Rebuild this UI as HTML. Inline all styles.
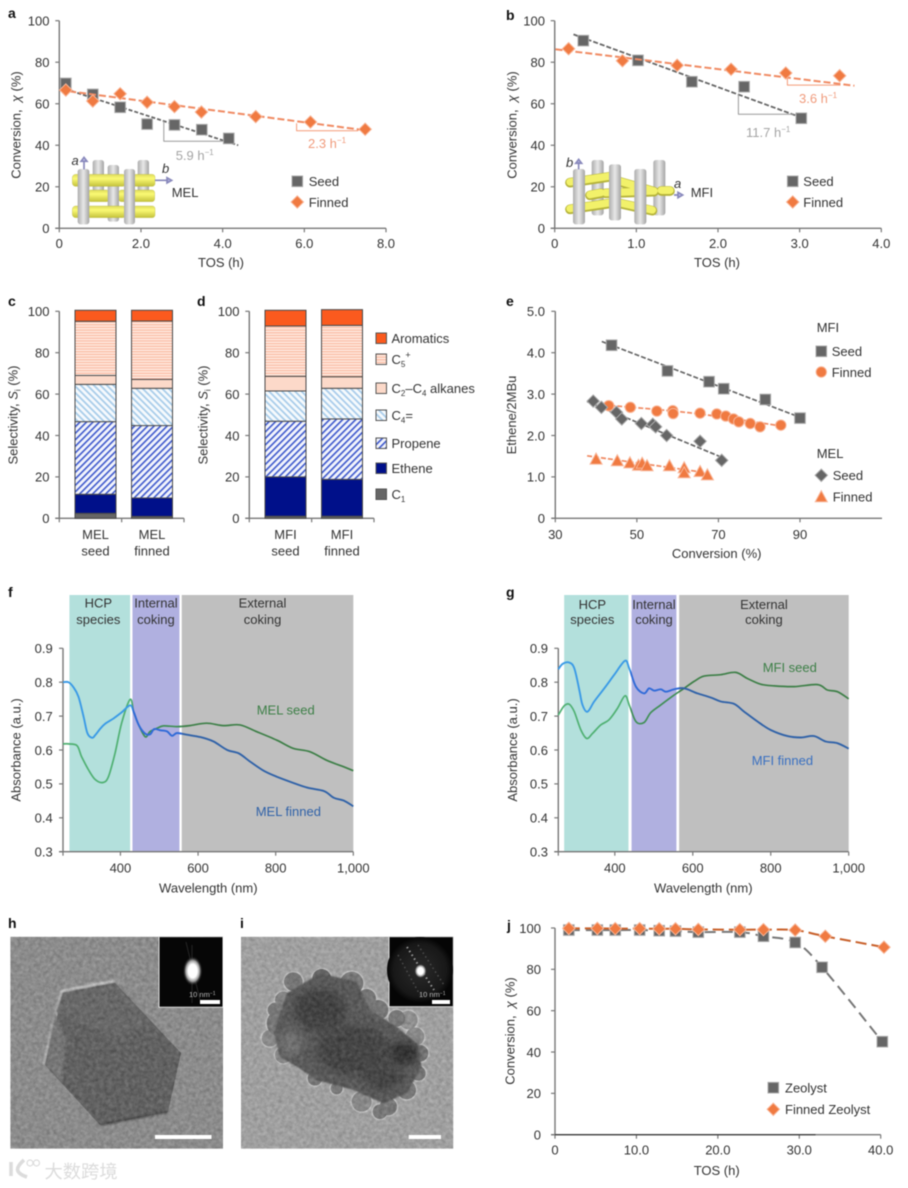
<!DOCTYPE html>
<html lang="en">
<head>
<meta charset="utf-8">
<title>Zeolite catalyst figure</title>
<style>
html,body{margin:0;padding:0;background:#fff;}
#figure{position:absolute;left:0;top:0;width:908px;height:1188px;filter:blur(.45px);font-family:"Liberation Sans","Noto Sans CJK SC",sans-serif;font-size:13px;fill:#333;}
.pl{font-weight:bold;font-size:14px;fill:#111;}
</style>
</head>
<body>
<svg id="figure" xmlns="http://www.w3.org/2000/svg" width="908" height="1188" viewBox="0 0 908 1188">
<defs>
  <pattern id="pC5" patternUnits="userSpaceOnUse" width="6" height="2.7"><rect width="6" height="2.7" fill="#fdd3c2"/><rect width="6" height="1.1" fill="#f9a78a" opacity=".55"/><rect y="1.7" width="6" height="1" fill="#fff2ec"/></pattern>
  <pattern id="pC4" patternUnits="userSpaceOnUse" width="4.6" height="4.6" patternTransform="rotate(-45)"><rect width="4.6" height="4.6" fill="#f6fafd"/><rect width="1.8" height="4.6" fill="#a9cdea"/></pattern>
  <pattern id="pPr" patternUnits="userSpaceOnUse" width="4.6" height="4.6" patternTransform="rotate(45)"><rect width="4.6" height="4.6" fill="#f2f4fc"/><rect width="1.6" height="4.6" fill="#3d58cc"/></pattern>
  <linearGradient id="gBlueF" gradientUnits="userSpaceOnUse" x1="63" x2="353" y1="0" y2="0"><stop offset=".24" stop-color="#3a9ae6"/><stop offset=".24" stop-color="#2f6ad8"/><stop offset=".41" stop-color="#2f6ad8"/><stop offset=".41" stop-color="#3062a8"/></linearGradient>
  <linearGradient id="gGreenF" gradientUnits="userSpaceOnUse" x1="63" x2="353" y1="0" y2="0"><stop offset=".24" stop-color="#4fb072"/><stop offset=".24" stop-color="#3f8f55"/><stop offset=".41" stop-color="#3f8f55"/><stop offset=".41" stop-color="#3d7f47"/></linearGradient>
  <linearGradient id="gBlueG" gradientUnits="userSpaceOnUse" x1="558" x2="849" y1="0" y2="0"><stop offset=".25" stop-color="#3a9ae6"/><stop offset=".25" stop-color="#2f6ad8"/><stop offset=".416" stop-color="#2f6ad8"/><stop offset=".416" stop-color="#3062a8"/></linearGradient>
  <linearGradient id="gGreenG" gradientUnits="userSpaceOnUse" x1="558" x2="849" y1="0" y2="0"><stop offset=".25" stop-color="#4fb072"/><stop offset=".25" stop-color="#3f8f55"/><stop offset=".416" stop-color="#3f8f55"/><stop offset=".416" stop-color="#3d7f47"/></linearGradient>
  <linearGradient id="cylG" x1="0" x2="1" y1="0" y2="0"><stop offset="0" stop-color="#adadad"/><stop offset=".5" stop-color="#e8e8e8"/><stop offset="1" stop-color="#a4a4a4"/></linearGradient>
  <linearGradient id="cylY" x1="0" x2="0" y1="0" y2="1"><stop offset="0" stop-color="#dedc5c"/><stop offset=".35" stop-color="#fbfa74"/><stop offset="1" stop-color="#c4c23c"/></linearGradient>
  <radialGradient id="spotH"><stop offset="0" stop-color="#fff"/><stop offset=".45" stop-color="#fff"/><stop offset=".7" stop-color="#999"/><stop offset="1" stop-color="#000" stop-opacity="0"/></radialGradient>
  <radialGradient id="haloI"><stop offset="0" stop-color="#2a2a2a"/><stop offset=".8" stop-color="#181818"/><stop offset="1" stop-color="#050505"/></radialGradient>
  <filter id="noise" x="0" y="0" width="100%" height="100%"><feTurbulence type="fractalNoise" baseFrequency=".28" numOctaves="2" seed="7"/><feColorMatrix type="matrix" values="0 0 0 0 0  0 0 0 0 0  0 0 0 0 0  1.4 0 0 0 -.25"/></filter>
  <filter id="noiseW" x="0" y="0" width="100%" height="100%"><feTurbulence type="fractalNoise" baseFrequency=".24" numOctaves="2" seed="19"/><feColorMatrix type="matrix" values="0 0 0 0 1  0 0 0 0 1  0 0 0 0 1  1.4 0 0 0 -.3"/></filter>
  <filter id="bl1"><feGaussianBlur stdDeviation="1"/></filter>
  <filter id="bl2"><feGaussianBlur stdDeviation="2.5"/></filter>
  <filter id="bl3" x="-40%" y="-40%" width="180%" height="180%"><feGaussianBlur stdDeviation="12"/></filter>
  <clipPath id="clipH"><rect x="10.3" y="936.7" width="212.7" height="212"/></clipPath>
  <clipPath id="clipI"><rect x="241" y="936.7" width="212.3" height="212"/></clipPath>
</defs>

<!-- panel letters -->
<text class="pl" x="8" y="18">a</text>
<text class="pl" x="506" y="20">b</text>
<text class="pl" x="8" y="306">c</text>
<text class="pl" x="197" y="306">d</text>
<text class="pl" x="506" y="306">e</text>
<text class="pl" x="8" y="597">f</text>
<text class="pl" x="506" y="597">g</text>
<text class="pl" x="8" y="928">h</text>
<text class="pl" x="240" y="928">i</text>
<text class="pl" x="507" y="930">j</text>

<!-- MEL structure illustration -->
<g transform="scale(.33333)">
  <rect x="278" y="480" width="34" height="112" rx="8" fill="url(#cylG)"/>
  <rect x="413" y="480" width="34" height="112" rx="8" fill="url(#cylG)"/>
  <rect x="264" y="570" width="64" height="35" rx="8" fill="url(#cylY)" stroke="#b5b33a"/>
  <rect x="356" y="570" width="108" height="35" rx="8" fill="url(#cylY)" stroke="#b5b33a"/>
  <rect x="323" y="495" width="34" height="170" rx="8" fill="url(#cylG)"/>
  <rect x="217" y="523" width="30" height="36" rx="10" fill="url(#cylY)" stroke="#b5b33a"/>
  <rect x="262" y="523" width="114" height="36" rx="8" fill="url(#cylY)" stroke="#b5b33a"/>
  <rect x="400" y="523" width="65" height="36" rx="8" fill="url(#cylY)" stroke="#b5b33a"/>
  <rect x="217" y="618" width="30" height="35" rx="10" fill="url(#cylY)" stroke="#b5b33a"/>
  <rect x="262" y="618" width="114" height="35" rx="8" fill="url(#cylY)" stroke="#b5b33a"/>
  <rect x="400" y="618" width="65" height="35" rx="8" fill="url(#cylY)" stroke="#b5b33a"/>
  <rect x="233" y="507" width="35" height="166" rx="8" fill="url(#cylG)"/>
  <rect x="372" y="507" width="33" height="166" rx="8" fill="url(#cylG)"/>
  <path d="M252 508V482M243 484L252 472L261 484Z M465 541H505M501 533L515 541L501 549Z" fill="#c3c3ee" stroke="#8888bb" stroke-width="5"/>
</g>
<text x="71.5" y="165" font-style="italic">a</text>
<text x="162" y="173" font-style="italic">b</text>
<text x="171.7" y="197">MEL</text>

<!-- MFI structure illustration -->
<g transform="translate(454,0) scale(.33333)">
  <rect x="413" y="480" width="36" height="166" rx="8" fill="url(#cylG)"/>
  <rect x="598" y="480" width="36" height="166" rx="8" fill="url(#cylG)"/>
  <g fill="none" stroke-linecap="round">
    <path d="M348 548L470 530M348 628L470 610M495 545L600 575M495 610L595 632M408 586L440 580M455 580L600 575M622 573H648" stroke="#b5b33a" stroke-width="29"/>
    <path d="M348 546L470 528M348 626L470 608M495 543L600 573M495 608L595 630M408 584L440 578M455 578L600 573M622 571H648" stroke="#f2f16a" stroke-width="22"/>
  </g>
  <rect x="465" y="493" width="36" height="168" rx="8" fill="url(#cylG)"/>
  <rect x="357" y="507" width="36" height="166" rx="8" fill="url(#cylG)"/>
  <rect x="541" y="507" width="36" height="166" rx="8" fill="url(#cylG)"/>
  <path d="M374 508V486M365 490L374 478L383 490Z M660 585H675M672 577L686 585L672 593Z" fill="#c3c3ee" stroke="#8888bb" stroke-width="5"/>
</g>
<text x="566" y="167" font-style="italic">b</text>
<text x="674" y="188" font-style="italic">a</text>
<text x="690.7" y="197">MFI</text>

<!-- chart layers filled by script -->
<g id="chart-a"></g>
<g id="chart-b"></g>
<g id="chart-c"></g>
<g id="chart-d"></g>
<g id="chart-e"></g>
<g id="chart-f"></g>
<g id="chart-g"></g>
<g id="chart-j"></g>

<!-- axis titles -->
<text transform="translate(20.5,125) rotate(-90)" text-anchor="middle">Conversion,&#160; <tspan font-style="italic">χ</tspan> (%)</text>
<text text-anchor="middle" x="221" y="267">TOS (h)</text>
<text transform="translate(516.5,125) rotate(-90)" text-anchor="middle">Conversion,&#160; <tspan font-style="italic">χ</tspan> (%)</text>
<text text-anchor="middle" x="717" y="267">TOS (h)</text>
<text transform="translate(17.5,415) rotate(-90)" text-anchor="middle">Selectivity, <tspan font-style="italic">S</tspan><tspan font-size="8" dy="3">i</tspan><tspan dy="-3"> (%)</tspan></text>
<text transform="translate(207.5,415) rotate(-90)" text-anchor="middle">Selectivity, <tspan font-style="italic">S</tspan><tspan font-size="8" dy="3">i</tspan><tspan dy="-3"> (%)</tspan></text>
<text transform="translate(516,415) rotate(-90)" text-anchor="middle">Ethene/2MBu</text>
<text text-anchor="middle" x="716.7" y="558">Conversion (%)</text>
<text transform="translate(20.5,750) rotate(-90)" text-anchor="middle">Absorbance (a.u.)</text>
<text text-anchor="middle" x="208.3" y="892.5">Wavelength (nm)</text>
<text transform="translate(516.8,750) rotate(-90)" text-anchor="middle">Absorbance (a.u.)</text>
<text text-anchor="middle" x="703.3" y="892.5">Wavelength (nm)</text>
<text transform="translate(514.5,1031) rotate(-90)" text-anchor="middle">Conversion,&#160; <tspan font-style="italic">χ</tspan> (%)</text>
<text text-anchor="middle" x="716.7" y="1175">TOS (h)</text>

<!-- slope labels -->
<text x="175.7" y="160" style="fill:#a4a4a4">5.9 h<tspan font-size="8" dy="-5">−1</tspan></text>
<text x="308" y="148" style="fill:#f09b7c">2.3 h<tspan font-size="8" dy="-5">−1</tspan></text>
<text x="746" y="137" style="fill:#a4a4a4">11.7 h<tspan font-size="8" dy="-5">−1</tspan></text>
<text x="799" y="103" style="fill:#f09b7c">3.6 h<tspan font-size="8" dy="-5">−1</tspan></text>

<!-- selectivity legend -->
<g stroke="#555" stroke-width="1">
  <rect x="376" y="333" width="10.5" height="10.5" fill="#fb5a1e"/>
  <rect x="376" y="354" width="10.5" height="10.5" fill="url(#pC5)"/>
  <rect x="376" y="383" width="10.5" height="10.5" fill="#fcd9c9"/>
  <rect x="376" y="410" width="10.5" height="10.5" fill="url(#pC4)"/>
  <rect x="376" y="438" width="10.5" height="10.5" fill="url(#pPr)"/>
  <rect x="376" y="463" width="10.5" height="10.5" fill="#00108a"/>
  <rect x="376" y="489" width="10.5" height="10.5" fill="#666"/>
</g>
<text x="391.5" y="343">Aromatics</text>
<text x="391.5" y="364">C<tspan font-size="8" dy="3">5</tspan><tspan font-size="9" dy="-9">+</tspan></text>
<text x="391.5" y="393">C<tspan font-size="8" dy="3">2</tspan><tspan dy="-3">–C</tspan><tspan font-size="8" dy="3">4</tspan><tspan dy="-3"> alkanes</tspan></text>
<text x="391.5" y="420">C<tspan font-size="8" dy="3">4</tspan><tspan dy="-3">=</tspan></text>
<text x="391.5" y="448">Propene</text>
<text x="391.5" y="473">Ethene</text>
<text x="391.5" y="499">C<tspan font-size="8" dy="3">1</tspan></text>

<!-- micrograph h -->
<g clip-path="url(#clipH)">
  <rect x="10.3" y="936.7" width="212.7" height="212" fill="#929292"/>
  <path d="M44 1065L52 1030L62 991L115 981" fill="none" stroke="#e0e0e0" stroke-width="2.4" filter="url(#bl1)"/>
  <polygon points="63,993 115,983 181,1053 168,1112 100,1125 45,1065" fill="#606060"/>
  <polygon points="63,993 115,983 150,1021 120,1040 70,1020 56,1012" fill="#676767" filter="url(#bl1)"/>
  <polygon points="55,1012 66,1040 62,1083 45,1065" fill="#787878" filter="url(#bl1)"/>
  <path d="M100 1125L168 1112" stroke="#2c2c2c" stroke-width="1.6" filter="url(#bl1)"/>
  <rect x="10.3" y="936.7" width="212.7" height="212" filter="url(#noise)" opacity=".22"/>
  <rect x="10.3" y="936.7" width="212.7" height="212" filter="url(#noiseW)" opacity=".18"/>
  <rect x="155" y="1135" width="56.5" height="4" fill="#fff"/>
  <rect x="159" y="936.7" width="64" height="70.5" fill="#060606" stroke="#ddd" stroke-width="1"/>
  <path d="M192 945V1003M186 942L200 1000" stroke="#444" stroke-width="1" opacity=".5"/>
  <ellipse cx="192.7" cy="971" rx="10" ry="15" fill="url(#spotH)"/>
  <text x="189" y="997" font-size="7.5" style="fill:#bbb">10 nm<tspan font-size="5" dy="-2">−1</tspan></text>
  <rect x="200" y="1000" width="20" height="4" fill="#fff"/>
</g>

<!-- micrograph i -->
<g clip-path="url(#clipI)">
  <rect x="241" y="936.7" width="212.3" height="212" fill="#a9a9a9"/>
  <g transform="translate(0,910) scale(.33333)">
    <g fill="#dadada" filter="url(#bl2)">
      <circle cx="880" cy="215" r="31"/><circle cx="965" cy="205" r="31"/><circle cx="1055" cy="220" r="38"/><circle cx="1100" cy="265" r="31"/><circle cx="1135" cy="300" r="33"/><circle cx="1225" cy="330" r="31"/><circle cx="1245" cy="380" r="31"/><circle cx="1260" cy="430" r="28"/><circle cx="1255" cy="490" r="25"/><circle cx="1220" cy="540" r="31"/><circle cx="1165" cy="590" r="29"/><circle cx="1085" cy="575" r="33"/><circle cx="1140" cy="605" r="25"/><circle cx="1010" cy="535" r="21"/><circle cx="945" cy="505" r="25"/><circle cx="850" cy="435" r="28"/><circle cx="810" cy="385" r="28"/><circle cx="825" cy="300" r="25"/><circle cx="850" cy="270" r="28"/><circle cx="840" cy="340" r="43"/><circle cx="1190" cy="325" r="28"/>
    </g>
    <g fill="#7a7a7a" filter="url(#bl1)">
      <circle cx="880" cy="215" r="28"/><circle cx="965" cy="205" r="28" fill="#666"/><circle cx="1055" cy="220" r="35"/><circle cx="1100" cy="265" r="28"/><circle cx="1135" cy="300" r="30"/><circle cx="1225" cy="330" r="28" fill="#979797"/><circle cx="1245" cy="380" r="28" fill="#8f8f8f"/><circle cx="1260" cy="430" r="25"/><circle cx="1255" cy="490" r="22"/><circle cx="1220" cy="540" r="28"/><circle cx="1165" cy="590" r="26"/><circle cx="1085" cy="575" r="30" fill="#8d8d8d"/><circle cx="1140" cy="605" r="22"/><circle cx="1010" cy="535" r="18"/><circle cx="945" cy="505" r="22"/><circle cx="850" cy="435" r="25" fill="#8a8a8a"/><circle cx="810" cy="385" r="25" fill="#909090"/><circle cx="825" cy="300" r="22"/><circle cx="850" cy="270" r="25" fill="#858585"/><circle cx="840" cy="340" r="40"/><circle cx="1190" cy="325" r="25"/>
    </g>
    <polygon points="860,250 960,190 1070,215 1110,300 1190,350 1250,400 1265,470 1220,550 1150,580 1060,540 950,510 890,470 840,440 822,370" fill="#585858" filter="url(#bl2)"/>
    <ellipse cx="1210" cy="430" rx="45" ry="35" fill="#2a2a2a" filter="url(#bl3)"/>
    <ellipse cx="960" cy="300" rx="80" ry="65" fill="#3e3e3e" filter="url(#bl3)"/>
    <ellipse cx="1060" cy="420" rx="110" ry="75" fill="#3f3f3f" filter="url(#bl3)"/>
    <ellipse cx="1150" cy="500" rx="60" ry="40" fill="#3f3f3f" filter="url(#bl3)"/>
    <ellipse cx="870" cy="400" rx="35" ry="40" fill="#727272" filter="url(#bl3)"/>
  </g>
  <rect x="241" y="936.7" width="212.3" height="212" filter="url(#noise)" opacity=".2"/>
  <rect x="241" y="936.7" width="212.3" height="212" filter="url(#noiseW)" opacity=".16"/>
  <rect x="408.7" y="1135" width="32.3" height="4" fill="#fff"/>
  <rect x="389" y="936.7" width="64.3" height="70" fill="#050505" stroke="#ddd" stroke-width="1"/>
  <circle cx="420" cy="970" r="33" fill="url(#haloI)"/>
  <path d="M407 947L434 990" stroke="#999" stroke-width="2" stroke-dasharray="1.5 3"/>
  <path d="M398 955L420 995M418 945L444 985" stroke="#4c4c4c" stroke-width="1.5" stroke-dasharray="1.5 3"/>
  <ellipse cx="420.5" cy="971" rx="6.5" ry="7.5" fill="url(#spotH)"/>
  <text x="419" y="997" font-size="7.5" style="fill:#bbb">10 nm<tspan font-size="5" dy="-2">−1</tspan></text>
  <rect x="432" y="1000" width="18" height="4" fill="#fff"/>
</g>

<!-- watermark -->
<g>
  <path d="M11 1162V1176M24 1160C15 1168 15 1173 27 1177" fill="none" stroke="#dcdcdc" stroke-width="3.6"/>
  <circle cx="30" cy="1163" r="3" fill="none" stroke="#dcdcdc" stroke-width="1.2"/>
  <circle cx="36.5" cy="1163" r="3" fill="none" stroke="#dcdcdc" stroke-width="1.2"/>
  <text x="44.5" y="1178" font-size="18.3" style="fill:#dcdcdc;font-family:'Noto Sans CJK SC',sans-serif">大数跨境</text>
</g>

<script>
// ---- panel a ----
const aSeedX = [0.16, 0.82, 1.49, 2.15, 2.82, 3.49, 4.15];
const aSeedY = [69.8, 64.5, 58.3, 50.2, 49.8, 47.5, 43.3];
const aFinnedX = [0.16, 0.82, 1.49, 2.15, 2.82, 3.48, 4.81, 6.15, 7.49];
const aFinnedY = [66.6, 61.3, 64.8, 60.7, 58.6, 56.0, 53.8, 51.2, 47.7];
const aSeedTrendX = [0.02, 4.38];
const aSeedTrendY = [67.9, 40.0];
const aFinnedTrendX = [0.0, 7.57];
const aFinnedTrendY = [66.6, 47.0];
const aSeedSlopeX = [2.56, 2.56, 4.0];
const aSeedSlopeY = [51.8, 41.9, 41.9];
const aFinnedSlopeX = [5.81, 5.81, 7.32];
const aFinnedSlopeY = [50.6, 47.0, 47.0];
const aXTicks = [0, 2, 4, 6, 8];
const aXLabels = ['0', '2.0', '4.0', '6.0', '8.0'];
const pctTicks = [0, 20, 40, 60, 80, 100];
const pctLabels = ['0', '20', '40', '60', '80', '100'];

// ---- panel b ----
const bSeedX = [0.35, 1.02, 1.68, 2.32, 3.02];
const bSeedY = [90.4, 80.9, 70.6, 68.2, 53.0];
const bFinnedX = [0.17, 0.83, 1.5, 2.16, 2.83, 3.49];
const bFinnedY = [86.5, 80.7, 78.5, 76.6, 74.8, 73.5];
const bSeedTrendX = [0.23, 3.01];
const bSeedTrendY = [93.4, 53.5];
const bFinnedTrendX = [0.01, 3.67];
const bFinnedTrendY = [86.2, 68.7];
const bSeedSlopeX = [2.25, 2.25, 2.93];
const bSeedSlopeY = [64.7, 54.9, 54.9];
const bFinnedSlopeX = [2.85, 2.85, 3.5];
const bFinnedSlopeY = [73.0, 69.0, 69.0];
const bXTicks = [0, 1, 2, 3, 4];
const bXLabels = ['0', '1.0', '2.0', '3.0', '4.0'];

// ---- panels c, d: stack order C1, ethene, propene, C4=, alkanes, C5+, aromatics ----
const stackNames = ['c1', 'ethene', 'propene', 'c4', 'alkanes', 'c5', 'aromatics'];
const melSeedStack = [2.4, 9.2, 35.1, 18.0, 4.3, 26.2, 5.3];
const melFinnedStack = [0.9, 8.9, 35.0, 18.0, 4.3, 28.2, 5.2];
const mfiSeedStack = [1.0, 19.0, 26.9, 14.6, 7.1, 24.3, 7.6];
const mfiFinnedStack = [1.0, 17.8, 29.2, 14.8, 5.6, 24.8, 7.6];

// ---- panel e ----
const eMfiSeedX = [43.8, 57.5, 67.7, 71.3, 81.5, 90.0];
const eMfiSeedY = [4.18, 3.56, 3.30, 3.13, 2.87, 2.42];
const eMfiFinnedX = [43.1, 48.4, 54.9, 58.8, 58.9, 65.5, 69.6, 71.8, 73.7, 75.0, 77.8, 80.2, 85.3];
const eMfiFinnedY = [2.72, 2.68, 2.59, 2.60, 2.53, 2.54, 2.52, 2.47, 2.40, 2.33, 2.29, 2.21, 2.25];
const eMelSeedX = [39.3, 41.3, 45.0, 46.3, 51.1, 53.9, 54.6, 57.3, 65.5, 70.8];
const eMelSeedY = [2.83, 2.68, 2.56, 2.40, 2.29, 2.27, 2.21, 2.00, 1.86, 1.40];
const eMelFinnedX = [40.0, 45.2, 48.3, 50.4, 51.3, 52.5, 58.0, 61.6, 61.6, 65.5, 67.3];
const eMelFinnedY = [1.43, 1.39, 1.34, 1.28, 1.33, 1.27, 1.27, 1.22, 1.10, 1.13, 1.05];
const eMfiSeedTrendX = [41.4, 90.0];
const eMfiSeedTrendY = [4.27, 2.44];
const eMfiFinnedTrendX = [41.8, 60.0, 72.0, 85.3];
const eMfiFinnedTrendY = [2.74, 2.58, 2.43, 2.23];
const eMelSeedTrendX = [37.8, 70.4];
const eMelSeedTrendY = [2.82, 1.49];
const eMelFinnedTrendX = [37.8, 66.3];
const eMelFinnedTrendY = [1.51, 1.11];
const eXTicks = [30, 50, 70, 90];
const eXLabels = ['30', '50', '70', '90'];
const eYTicks = [0, 1, 2, 3, 4, 5];
const eYLabels = ['0', '1.0', '2.0', '3.0', '4.0', '5.0'];

// ---- panel f ----
const fBandStart = [268.6, 431, 558];
const fBandEnd = [425, 552, 1000];
const fFinnedX = [252, 266, 279, 292, 305, 315, 327, 335, 348, 361, 382, 403, 425, 434, 447, 464, 477, 487, 503, 520, 533, 546, 571, 606, 640, 675, 705, 735, 769, 803, 838, 881, 924, 950, 975, 1000];
const fFinnedY = [.80, .80, .785, .757, .698, .649, .636, .644, .663, .678, .693, .711, .732, .713, .674, .648, .647, .662, .658, .655, .642, .650, .645, .638, .625, .600, .590, .565, .539, .521, .506, .489, .479, .459, .451, .434];
const fSeedX = [252, 266, 288, 300, 318, 335, 355, 369, 386, 403, 425, 434, 447, 464, 476, 494, 511, 545, 579, 622, 665, 708, 751, 803, 845, 888, 931, 974, 1000];
const fSeedY = [.618, .618, .613, .580, .541, .513, .504, .521, .590, .679, .749, .713, .674, .639, .654, .664, .671, .669, .672, .679, .672, .674, .654, .629, .605, .595, .570, .551, .539];

// ---- panel g ----
const gBandStart = [270, 443, 565];
const gBandEnd = [435, 558, 1000];
const gFinnedX = [255, 266, 283, 296, 309, 317, 330, 347, 373, 398, 426, 437, 454, 475, 488, 501, 518, 531, 552, 578, 612, 646, 672, 706, 732, 766, 800, 843, 877, 911, 941, 971, 1000];
const gFinnedY = [.838, .854, .858, .841, .777, .733, .713, .743, .782, .821, .863, .841, .787, .767, .782, .775, .779, .772, .779, .782, .767, .755, .743, .736, .713, .684, .659, .641, .637, .641, .625, .620, .604];
const gSeedX = [255, 270, 283, 296, 313, 328, 343, 364, 385, 407, 426, 437, 454, 475, 492, 518, 552, 578, 603, 629, 672, 710, 740, 774, 809, 860, 920, 945, 971, 1000];
const gSeedY = [.703, .730, .735, .713, .659, .634, .649, .674, .689, .723, .760, .733, .684, .681, .710, .733, .762, .782, .802, .818, .822, .829, .811, .794, .789, .787, .793, .777, .772, .751];
const specXTicks = [400, 600, 800, 1000];
const specXLabels = ['400', '600', '800', '1,000'];
const specYTicks = [.3, .4, .5, .6, .7, .8, .9];
const specYLabels = ['0.3', '0.4', '0.5', '0.6', '0.7', '0.8', '0.9'];
const bandNames = ['hcp-species', 'internal-coking', 'external-coking'];
const bandFirstLine = ['HCP', 'Internal', 'External'];
const bandSecondLine = ['species', 'coking', 'coking'];

// ---- panel j ----
const jZeolystX = [1.7, 5.2, 7.4, 10.4, 12.8, 14.8, 17.6, 22.7, 25.6, 29.5, 32.8, 40.2];
const jZeolystY = [99, 99, 99, 99, 98.7, 98.5, 98, 98, 96, 93, 81, 45];
const jFinnedX = [1.7, 5.2, 7.4, 10.4, 12.8, 14.8, 17.6, 22.7, 25.6, 29.5, 33.2, 40.4];
const jFinnedY = [99.8, 99.8, 99.7, 99.7, 99.6, 99.6, 99.3, 99.2, 99.2, 99, 96, 90.7];
const jXTicks = [0, 10, 20, 30, 40];
const jXLabels = ['0', '10.0', '20.0', '30.0', '40.0'];

const NS = 'http://www.w3.org/2000/svg';
const AXIS = '#777';
const GRAY = '#666';
const ORANGE = '#f07a41';

function linear(d0, d1, r0, r1) { return v => r0 + (v - d0) / (d1 - d0) * (r1 - r0); }

function mark(parent, tag, attrs, name) {
  const el = document.createElementNS(NS, tag);
  for (const k in attrs) el.setAttribute(k, attrs[k]);
  
  
  parent.appendChild(el);
  return el;
}
function label(parent, x, y, str, anchor, name, color) {
  const el = mark(parent, 'text', { x: x, y: y, 'text-anchor': anchor }, name);
  if (color) el.style.fill = color;
  el.textContent = str;
  return el;
}
function axes(g, id, sx, sy, x0, x1, y0, y1, xTicks, xLabels, yTicks, yLabels, xLabelBase, yLabelRight, xStartTick) {
  mark(g, 'line', { x1: x0, x2: x0, y1: y0, y2: y1, stroke: AXIS, 'stroke-width': 1.4 }, id + '-y-axis');
  mark(g, 'line', { x1: x0 - 4, x2: x1, y1: y0, y2: y0, stroke: AXIS, 'stroke-width': 1.4 }, id + '-x-axis');
  yTicks.forEach((t, i) => {
    mark(g, 'line', { x1: x0 - 4, x2: x0, y1: sy(t), y2: sy(t), stroke: AXIS, 'stroke-width': 1.2 }, id + '-y-tick');
    label(g, yLabelRight, sy(t) + 4.8, yLabels[i], 'end', id + '-y-tick-label');
  });
  if (xStartTick) mark(g, 'line', { x1: x0, x2: x0, y1: y0, y2: y0 + 4, stroke: AXIS, 'stroke-width': 1.2 }, id + '-x-tick');
  xTicks.forEach((t, i) => {
    mark(g, 'line', { x1: sx(t), x2: sx(t), y1: y0, y2: y0 + 4, stroke: AXIS, 'stroke-width': 1.2 }, id + '-x-tick');
    label(g, sx(t), xLabelBase, xLabels[i], 'middle', id + '-x-tick-label');
  });
}
function line(g, xs, ys, sx, sy, attrs, name) {
  const pts = xs.map((x, i) => sx(x).toFixed(1) + ',' + sy(ys[i]).toFixed(1)).join(' ');
  return mark(g, 'polyline', Object.assign({ points: pts, fill: 'none', 'stroke-linejoin': 'round' }, attrs), name);
}
// smooth curve through the data points (Catmull-Rom as cubic Beziers)
function curve(g, xs, ys, sx, sy, attrs, name) {
  const px = xs.map(sx), py = ys.map(sy);
  let d = 'M' + px[0].toFixed(1) + ' ' + py[0].toFixed(1);
  for (let i = 0; i < px.length - 1; i++) {
    const a = Math.max(i - 1, 0), b = Math.min(i + 2, px.length - 1);
    const c1x = px[i] + (px[i + 1] - px[a]) / 6, c1y = py[i] + (py[i + 1] - py[a]) / 6;
    const c2x = px[i + 1] - (px[b] - px[i]) / 6, c2y = py[i + 1] - (py[b] - py[i]) / 6;
    d += 'C' + c1x.toFixed(1) + ' ' + c1y.toFixed(1) + ' ' + c2x.toFixed(1) + ' ' + c2y.toFixed(1) + ' ' + px[i + 1].toFixed(1) + ' ' + py[i + 1].toFixed(1);
  }
  return mark(g, 'path', Object.assign({ d: d, fill: 'none', 'stroke-linejoin': 'round' }, attrs), name);
}
function glyph(g, shape, cx, cy, color, edge, name) {
  const common = { fill: color, stroke: edge, 'stroke-width': 1 };
  if (shape === 'square') return mark(g, 'rect', Object.assign({ x: cx - 5.3, y: cy - 5.3, width: 10.6, height: 10.6 }, common), name);
  if (shape === 'circle') return mark(g, 'circle', Object.assign({ cx: cx, cy: cy, r: 5.2 }, common), name);
  const d = 6.2;
  if (shape === 'diamond') return mark(g, 'polygon', Object.assign({ points: [cx, cy - d, cx + d, cy, cx, cy + d, cx - d, cy].join(' ') }, common), name);
  return mark(g, 'polygon', Object.assign({ points: [cx, cy - 6, cx + 6, cy + 5, cx - 6, cy + 5].join(' ') }, common), name);
}
function points(g, shape, xs, ys, sx, sy, color, edge, name) {
  xs.forEach((x, i) => glyph(g, shape, sx(x), sy(ys[i]), color, edge, name));
}
const EDGE_G = '#aaa';
const EDGE_O = '#f8b496';

// panel a
(function () {
  const g = document.getElementById('chart-a');
  const sx = linear(0, 8, 59.3, 386), sy = linear(0, 100, 228.3, 20.7);
  axes(g, 'a', sx, sy, 59.3, 386, 228.3, 20.7, aXTicks, aXLabels, pctTicks, pctLabels, 248, 49.5, false);
  line(g, aSeedTrendX, aSeedTrendY, sx, sy, { stroke: GRAY, 'stroke-width': 1.8, 'stroke-dasharray': '4 2' }, 'a-seed-trend');
  line(g, aSeedSlopeX, aSeedSlopeY, sx, sy, { stroke: '#999', 'stroke-width': 1 }, 'a-seed-slope-triangle');
  line(g, aFinnedSlopeX, aFinnedSlopeY, sx, sy, { stroke: '#f49a78', 'stroke-width': 1 }, 'a-finned-slope-triangle');
  points(g, 'square', aSeedX, aSeedY, sx, sy, GRAY, EDGE_G, 'a-seed-point');
  line(g, aFinnedTrendX, aFinnedTrendY, sx, sy, { stroke: '#f08a62', 'stroke-width': 2, 'stroke-dasharray': '7 3' }, 'a-finned-trend');
  points(g, 'diamond', aFinnedX, aFinnedY, sx, sy, ORANGE, EDGE_O, 'a-finned-point');
  glyph(g, 'square', 297.3, 181.3, GRAY, EDGE_G, 'a-legend-seed-marker');
  label(g, 308.7, 186, 'Seed', 'start', 'a-legend-seed-label');
  glyph(g, 'diamond', 297.3, 202, ORANGE, EDGE_O, 'a-legend-finned-marker');
  label(g, 308.7, 207, 'Finned', 'start', 'a-legend-finned-label');
})();

// panel b
(function () {
  const g = document.getElementById('chart-b');
  const sx = linear(0, 4, 554.7, 881.3), sy = linear(0, 100, 228.3, 20.7);
  axes(g, 'b', sx, sy, 554.7, 881.3, 228.3, 20.7, bXTicks, bXLabels, pctTicks, pctLabels, 248, 545, false);
  line(g, bSeedTrendX, bSeedTrendY, sx, sy, { stroke: GRAY, 'stroke-width': 1.8, 'stroke-dasharray': '5 2' }, 'b-seed-trend');
  line(g, bSeedSlopeX, bSeedSlopeY, sx, sy, { stroke: '#999', 'stroke-width': 1 }, 'b-seed-slope-triangle');
  line(g, bFinnedSlopeX, bFinnedSlopeY, sx, sy, { stroke: '#f49a78', 'stroke-width': 1 }, 'b-finned-slope-triangle');
  points(g, 'square', bSeedX, bSeedY, sx, sy, GRAY, EDGE_G, 'b-seed-point');
  line(g, bFinnedTrendX, bFinnedTrendY, sx, sy, { stroke: '#f08a62', 'stroke-width': 2, 'stroke-dasharray': '7 3' }, 'b-finned-trend');
  points(g, 'diamond', bFinnedX, bFinnedY, sx, sy, ORANGE, EDGE_O, 'b-finned-point');
  glyph(g, 'square', 792.7, 181.3, GRAY, EDGE_G, 'b-legend-seed-marker');
  label(g, 803.3, 186, 'Seed', 'start', 'b-legend-seed-label');
  glyph(g, 'diamond', 792.7, 202, ORANGE, EDGE_O, 'b-legend-finned-marker');
  label(g, 803.3, 207, 'Finned', 'start', 'b-legend-finned-label');
})();

// panels c, d
function stackedPanel(id, gid, x0, x1, labelRight, bars, groupName) {
  const g = document.getElementById(gid);
  const sy = linear(0, 100, 518.3, 311.3);
  const fills = ['#666666', '#00108a', 'url(#pPr)', 'url(#pC4)', '#fcd9c9', 'url(#pC5)', '#fb5a1e'];
  const sx = linear(0, 1, x0, x1);
  axes(g, id, sx, sy, x0, x1, 518.3, 311.3, [0, 0.5, 1], ['', '', ''], pctTicks, pctLabels, 539, labelRight, false);
  bars.forEach((b, bi) => {
    const w = 41, left = bi === 0 ? x0 + 15.7 : x0 + 72.2;
    let cum = 0;
    b.values.forEach((v, si) => {
      mark(g, 'rect', { x: left, y: sy(cum + v), width: w, height: sy(cum) - sy(cum + v), fill: fills[si], stroke: '#4a4a4a', 'stroke-width': 1 }, b.name + '-' + stackNames[si] + '-segment');
      cum += v;
    });
    label(g, left + w / 2, 539, groupName, 'middle', b.name + '-label-line1');
    label(g, left + w / 2, 555.5, b.sub, 'middle', b.name + '-label-line2');
  });
}
stackedPanel('c', 'chart-c', 59.3, 184, 49.5, [
  { name: 'mel-seed', sub: 'seed', values: melSeedStack },
  { name: 'mel-finned', sub: 'finned', values: melFinnedStack }
], 'MEL');
stackedPanel('d', 'chart-d', 249.3, 374, 239.5, [
  { name: 'mfi-seed', sub: 'seed', values: mfiSeedStack },
  { name: 'mfi-finned', sub: 'finned', values: mfiFinnedStack }
], 'MFI');

// panel e
(function () {
  const g = document.getElementById('chart-e');
  const sx = linear(30, 90, 555.3, 800), sy = linear(0, 5, 518.3, 311.3);
  axes(g, 'e', sx, sy, 555.3, 882, 518.3, 311.3, eXTicks, eXLabels, eYTicks, eYLabels, 539, 545, false);
  line(g, eMfiSeedTrendX, eMfiSeedTrendY, sx, sy, { stroke: GRAY, 'stroke-width': 1.7, 'stroke-dasharray': '5 2' }, 'e-mfi-seed-trend');
  curve(g, eMfiFinnedTrendX, eMfiFinnedTrendY, sx, sy, { stroke: '#f08a62', 'stroke-width': 1.7, 'stroke-dasharray': '5 2' }, 'e-mfi-finned-trend');
  line(g, eMelSeedTrendX, eMelSeedTrendY, sx, sy, { stroke: GRAY, 'stroke-width': 1.7, 'stroke-dasharray': '5 2' }, 'e-mel-seed-trend');
  line(g, eMelFinnedTrendX, eMelFinnedTrendY, sx, sy, { stroke: '#f08a62', 'stroke-width': 1.7, 'stroke-dasharray': '5 2' }, 'e-mel-finned-trend');
  points(g, 'square', eMfiSeedX, eMfiSeedY, sx, sy, GRAY, EDGE_G, 'e-mfi-seed-point');
  points(g, 'circle', eMfiFinnedX, eMfiFinnedY, sx, sy, ORANGE, EDGE_O, 'e-mfi-finned-point');
  points(g, 'diamond', eMelSeedX, eMelSeedY, sx, sy, GRAY, EDGE_G, 'e-mel-seed-point');
  points(g, 'triangle', eMelFinnedX, eMelFinnedY, sx, sy, ORANGE, EDGE_O, 'e-mel-finned-point');
  label(g, 816.7, 332, 'MFI', 'start', 'e-legend-mfi-heading');
  glyph(g, 'square', 821.3, 351.3, GRAY, EDGE_G, 'e-legend-mfi-seed-marker');
  label(g, 831.7, 356, 'Seed', 'start', 'e-legend-mfi-seed-label');
  glyph(g, 'circle', 821.3, 372, ORANGE, EDGE_O, 'e-legend-mfi-finned-marker');
  label(g, 831.7, 377, 'Finned', 'start', 'e-legend-mfi-finned-label');
  label(g, 816.7, 458, 'MEL', 'start', 'e-legend-mel-heading');
  glyph(g, 'diamond', 821.3, 475.3, GRAY, EDGE_G, 'e-legend-mel-seed-marker');
  label(g, 832.7, 480, 'Seed', 'start', 'e-legend-mel-seed-label');
  glyph(g, 'triangle', 821.3, 496.7, ORANGE, EDGE_O, 'e-legend-mel-finned-marker');
  label(g, 832.7, 501.5, 'Finned', 'start', 'e-legend-mel-finned-label');
})();

// panels f, g
function spectra(id, gid, d0, r0, r1, starts, ends, yLabelRight, finX, finY, seedX, seedY, blue, green, textBase, hcpShift, extShift) {
  const g = document.getElementById(gid);
  const sx = linear(d0, 1000, r0, r1), sy = linear(.3, .9, 851.7, 648.3);
  const colors = ['#b3e0dc', '#b0b0e0', '#bfbfbf'];
  starts.forEach((s, i) => {
    mark(g, 'rect', { x: sx(s), y: 595, width: sx(ends[i]) - sx(s), height: 851.7 - 595, fill: colors[i] }, id + '-band-' + bandNames[i]);
    const cx = (sx(s) + sx(ends[i])) / 2 + (i === 0 ? hcpShift : i === 2 ? extShift : 0);
    label(g, cx, textBase, bandFirstLine[i], 'middle', id + '-band-label-' + bandNames[i] + '-line1');
    label(g, cx, 624, bandSecondLine[i], 'middle', id + '-band-label-' + bandNames[i] + '-line2');
  });
  axes(g, id, sx, sy, r0, r1, 851.7, 648.3, specXTicks, specXLabels, specYTicks, specYLabels, 872.5, yLabelRight, true);
  curve(g, seedX, seedY, sx, sy, { stroke: green, 'stroke-width': 1.7 }, id + '-seed-spectrum');
  curve(g, finX, finY, sx, sy, { stroke: blue, 'stroke-width': 1.9 }, id + '-finned-spectrum');
}
spectra('f', 'chart-f', 252, 63, 353.3, fBandStart, fBandEnd, 52.7, fFinnedX, fFinnedY, fSeedX, fSeedY, 'url(#gBlueF)', 'url(#gGreenF)', 607.5, -1.5, -5);
spectra('g', 'chart-g', 255, 558.3, 848.7, gBandStart, gBandEnd, 548, gFinnedX, gFinnedY, gSeedX, gSeedY, 'url(#gBlueG)', 'url(#gGreenG)', 609, -4, 0);
label(document.getElementById('chart-f'), 256.7, 714.5, 'MEL seed', 'start', 'f-seed-series-label', '#3d7f47');
label(document.getElementById('chart-f'), 255.7, 816, 'MEL finned', 'start', 'f-finned-series-label', '#3062a8');
label(document.getElementById('chart-g'), 762.7, 672, 'MFI seed', 'start', 'g-seed-series-label', '#3d7f47');
label(document.getElementById('chart-g'), 751.7, 765, 'MFI finned', 'start', 'g-finned-series-label', '#3a70c0');

// panel j
(function () {
  const g = document.getElementById('chart-j');
  const sx = linear(0, 40, 555, 880.7), sy = linear(0, 100, 1134.7, 928);
  axes(g, 'j', sx, sy, 555, 880.7, 1134.7, 928, jXTicks, jXLabels, pctTicks, pctLabels, 1154.5, 541, false);
  mark(g, 'line', { x1: sx(0), x2: sx(32), y1: 1134.7, y2: 1134.7, stroke: '#333', 'stroke-width': 1.2 }, 'j-x-axis-dark-segment');
  curve(g, jZeolystX, jZeolystY, sx, sy, { stroke: '#777', 'stroke-width': 2, 'stroke-dasharray': '11 6' }, 'j-zeolyst-curve');
  points(g, 'square', jZeolystX, jZeolystY, sx, sy, GRAY, EDGE_G, 'j-zeolyst-point');
  curve(g, jFinnedX, jFinnedY, sx, sy, { stroke: '#c8602a', 'stroke-width': 2, 'stroke-dasharray': '11 5' }, 'j-finned-curve');
  points(g, 'diamond', jFinnedX, jFinnedY, sx, sy, ORANGE, EDGE_O, 'j-finned-point');
  glyph(g, 'square', 773.3, 1087.7, GRAY, EDGE_G, 'j-legend-zeolyst-marker');
  label(g, 785, 1092.5, 'Zeolyst', 'start', 'j-legend-zeolyst-label');
  glyph(g, 'diamond', 773.3, 1109.3, ORANGE, EDGE_O, 'j-legend-finned-marker');
  label(g, 785, 1114, 'Finned Zeolyst', 'start', 'j-legend-finned-label');
})();
</script>
</svg>
</body>
</html>
